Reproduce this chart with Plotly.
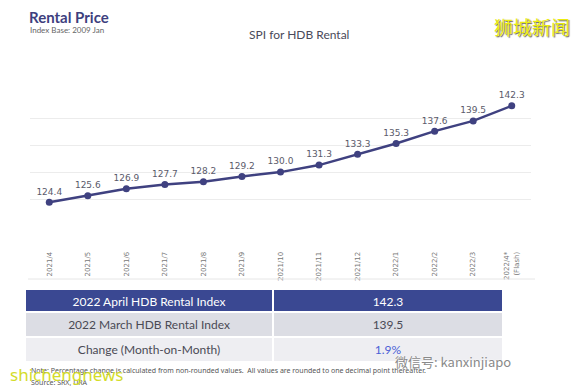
import plotly.graph_objects as go

months = ["2021/4", "2021/5", "2021/6", "2021/7", "2021/8", "2021/9", "2021/10",
          "2021/11", "2021/12", "2022/1", "2022/2", "2022/3", "2022/4*<br>(Flash)"]
spi = [124.4, 125.6, 126.9, 127.7, 128.2, 129.2, 130.0, 131.3, 133.3, 135.3, 137.6, 139.5, 142.3]
grid_vals = [120, 125, 130, 135, 140, 145]

table_labels = ["2022 April HDB Rental Index", "2022 March HDB Rental Index", "Change (Month-on-Month)"]
table_values = ["142.3", "139.5", "1.9%"]

# page body has an 8px margin: figure is 576x381 placed at (8, 8)
OFF = 8
W, H = 584 - OFF, 389 - OFF

def px(x):
    return (x - OFF) / W

def py(y):
    return 1 - (y - OFF) / H

fig = go.Figure()

fig.add_trace(go.Scatter(
    x=months, y=spi, mode="lines+markers+text",
    text=[f"{v:.1f}" for v in spi], textposition="top center",
    textfont=dict(family="DejaVu Sans", size=9, color="#5a5a6a"),
    line=dict(color="#3f4180", width=2.5),
    marker=dict(color="#3f4180", size=7),
    cliponaxis=False, showlegend=False,
))

fig.add_trace(go.Table(
    domain=dict(x=[px(25), px(503)], y=[py(362), py(289)]),
    columnwidth=[248, 230],
    header=dict(values=[table_labels[0], table_values[0]],
                fill_color="#3a4892", line=dict(color="white", width=2),
                font=dict(family="Lato", size=12, color="white"),
                align="center", height=23),
    cells=dict(values=[table_labels[1:], table_values[1:]],
               fill_color=[["#dcdde4", "#eeeef2"], ["#dcdde4", "#eeeef2"]],
               line=dict(color="white", width=2),
               font=dict(family="Lato", size=12,
                         color=[["#4a4a55", "#4a4a55"], ["#4a4a55", "#4b5fd6"]]),
               align="center", height=25),
))

fig.update_layout(
    width=W, height=H,
    margin=dict(l=0, r=0, t=0, b=0),
    paper_bgcolor="white", plot_bgcolor="white",
    font=dict(family="Lato"),
    xaxis=dict(type="category", range=[-0.5, 12.5], domain=[px(30), px(531)],
               showgrid=False, showline=False, automargin=False,
               ticks="outside", ticklen=22, tickcolor="rgba(0,0,0,0)",
               tickangle=-90, tickfont=dict(family="DejaVu Sans", size=7, color="#777")),
    yaxis=dict(range=[120, 145.05], domain=[py(226), py(91)], automargin=False,
               tickvals=grid_vals, showticklabels=False,
               showgrid=True, gridcolor="#ececec", gridwidth=1, zeroline=False),
    shapes=[dict(type="line", xref="paper", yref="paper",
                 x0=px(28), x1=px(535), y0=py(279), y1=py(279),
                 line=dict(color="#e6e6e6", width=1))],
)

def ann(text, x, y, size, color, family="Lato", xanchor="left", shadow=None):
    f = dict(family=family, size=size, color=color)
    if shadow:
        f["shadow"] = shadow
    fig.add_annotation(text=text, x=px(x), y=py(y), xref="paper", yref="paper",
                       xanchor=xanchor, yanchor="middle", showarrow=False, font=f)

ann("<b>Rental Price</b>", 27, 17, 15, "#3e3f7e")
ann("Index Base: 2009 Jan", 28, 30, 8, "#666")
ann("SPI for HDB Rental", 299, 34, 12, "#4a4a5a", xanchor="center")
ann("Note: Percentage change is calculated from non-rounded values.  All values are rounded to one decimal point thereafter.",
    29, 370, 7, "#555", family="Noto Sans")
ann("Source: SRX, URA", 29, 382, 7, "#555", family="Noto Sans")
ann("狮城新闻", 532, 27, 19, "#ecec10", family="Noto Sans CJK SC", xanchor="center",
    shadow="1px 1px 1px #666")
ann("shichengnews", 8, 374, 17, "#d4dc2a", family="Noto Sans")
ann("微信号: kanxinjiapo", 393, 361, 13, "#8a8a8a", family="Noto Sans CJK SC",
    shadow="0px 0px 2px #ffffff")

fig.write_html("out.html")
